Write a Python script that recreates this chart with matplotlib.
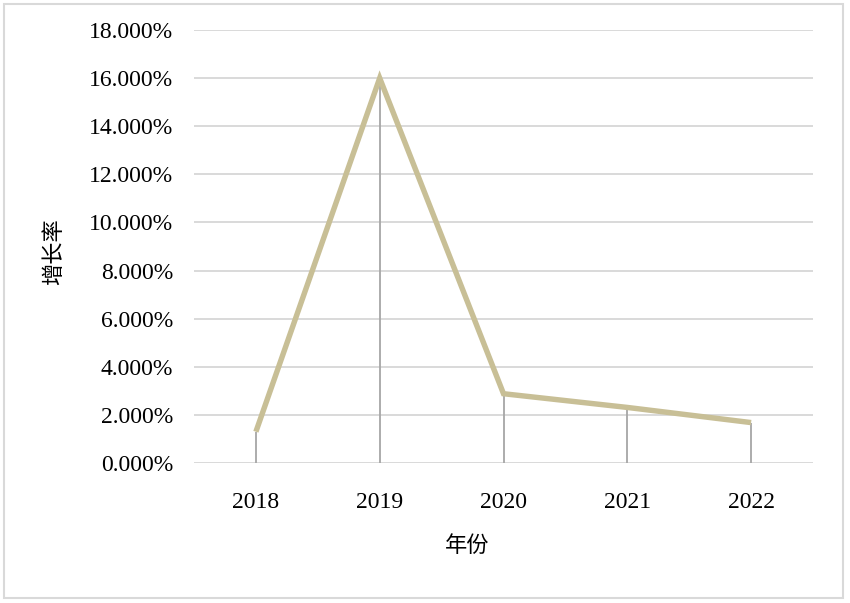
import matplotlib.pyplot as plt
from matplotlib.patches import Rectangle
from matplotlib.ticker import FuncFormatter

# data
years = ['2018', '2019', '2020', '2021', '2022']
growth = [1.30, 16.00, 2.88, 2.31, 1.68]   # percent
y_ticks = [0, 2, 4, 6, 8, 10, 12, 14, 16, 18]

serif = ['Liberation Serif', 'DejaVu Serif']
cjk = ['Noto Sans CJK SC', 'DejaVu Sans']

fig = plt.figure(figsize=(8.5, 6.03), dpi=100)
ax = fig.add_axes([194 / 850, 1 - 463 / 603, (813 - 194) / 850, (463 - 30) / 603])

x = list(range(len(years)))

# drop lines from each point down to the axis
ax.vlines(x, 0, growth, colors='#a6a6a6', linewidth=1.3, zorder=2)
ax.plot(x, growth, color='#c8bf96', linewidth=3.9, solid_capstyle='butt',
        solid_joinstyle='miter', zorder=3)

ax.set_xlim(-0.5, len(years) - 0.5)
ax.set_ylim(0, 18)
ax.set_yticks(y_ticks)
ax.yaxis.set_major_formatter(FuncFormatter(lambda v, p: f'{v:.3f}%'))
ax.set_xticks(x)
ax.set_xticklabels(years)
ax.grid(axis='y', color='#d9d9d9', linewidth=1.4, zorder=0)
ax.set_axisbelow(True)
for s in ax.spines.values():
    s.set_visible(False)
ax.tick_params(length=0, labelsize=17)
ax.tick_params(axis='y', pad=15)
ax.tick_params(axis='x', pad=21)
for lab in ax.get_xticklabels() + ax.get_yticklabels():
    lab.set_family(serif)

fig.text(467 / 850, 1 - 545 / 603, '年份', family=cjk, fontsize=16,
         ha='center', va='center')
fig.text(54 / 850, 1 - 252 / 603, '增长率', family=cjk, fontsize=16,
         ha='center', va='center', rotation=90)

# light border round the whole chart
fig.patches.append(Rectangle((4 / 850, 5 / 603), 839 / 850, 594 / 603,
                             transform=fig.transFigure, fill=False,
                             edgecolor='#d9d9d9', linewidth=1.5))

fig.savefig('out.png', dpi=100)
